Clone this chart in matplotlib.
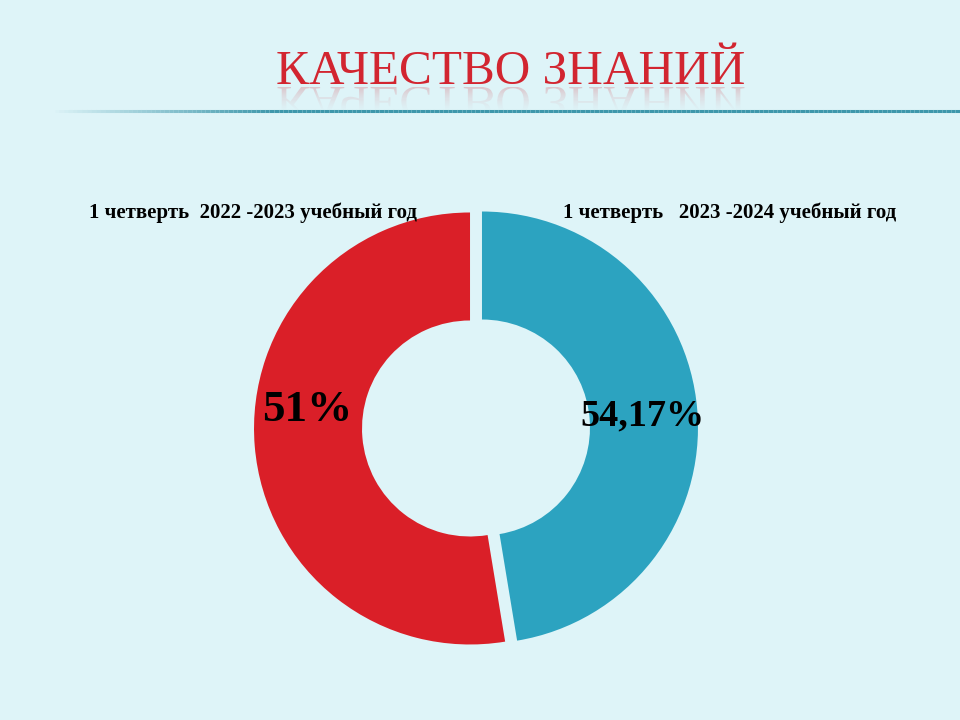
import matplotlib
matplotlib.use("Agg")
import matplotlib.pyplot as plt
import numpy as np
from matplotlib.textpath import TextPath
from matplotlib.patches import PathPatch
from matplotlib.font_manager import FontProperties
from matplotlib.transforms import Affine2D, Bbox
from matplotlib.collections import LineCollection
from matplotlib.colors import to_rgba

# ---- data ----
title = "КАЧЕСТВО ЗНАНИЙ"
categories = ["1 четверть   2023 -2024 учебный год", "1 четверть  2022 -2023 учебный год"]
ring_shares = [47.4, 52.6]          # share of the ring
value_labels = ["54,17%", "51%"]
colors = ["#2CA3C0", "#DA1F28"]

bg = "#DEF4F8"
serif = "Liberation Serif"
W, H = 960, 720

fig = plt.figure(figsize=(9.6, 7.2), dpi=100)
fig.patch.set_facecolor(bg)

# pie axes (pixel coords, y up)
axp = fig.add_axes([0, 0, 1, 1])
axp.pie(ring_shares, colors=colors, startangle=90, counterclock=False,
        radius=216, center=(476, H - 428), explode=[6, 6],
        wedgeprops=dict(width=108, edgecolor="none"))
axp.set_xlim(0, W)
axp.set_ylim(0, H)
axp.set_aspect("auto")
axp.axis("off")

# overlay axes (pixel coords, y down)
ax = fig.add_axes([0, 0, 1, 1])
ax.set_xlim(0, W)
ax.set_ylim(H, 0)
ax.axis("off")
ax.patch.set_alpha(0)

# title
title_color = "#D22530"
fs = 35.5
base = 84
ax.text(511, base, title, fontsize=fs, color=title_color, family=serif,
        ha="center", va="baseline")
# faded reflection
fp = FontProperties(family=serif)
tp = TextPath((0, 0), title, size=fs * 100 / 72, prop=fp)
ext = tp.get_extents()
tr = Affine2D().translate(-(ext.x0 + ext.x1) / 2, 0).scale(1, 0.9).translate(511, base + 3) + ax.transData
nb = 24
y0, y1 = base + 3, base + 28
for i in range(nb):
    ya = y0 + (y1 - y0) * i / nb
    yb = y0 + (y1 - y0) * (i + 1) / nb
    a = 0.22 * (1 - i / nb) ** 1.6
    pp = PathPatch(tp, facecolor=title_color, edgecolor="none", alpha=a,
                   transform=tr, antialiased=True)
    ax.add_patch(pp)
    pp.set_clip_path(None)
    pp.set_clip_box(Bbox.from_extents(0, H - yb, W, H - ya))

# gradient line under title
xs = np.linspace(50, W, 200)
segs = [[(xs[i], 111), (xs[i + 1], 111)] for i in range(len(xs) - 1)]
lc_cols = []
r, g, b, _ = to_rgba("#3E97AB")
for i in range(len(xs) - 1):
    t = min(1.0, max(0.0, (xs[i] - 50) / 220))
    lc_cols.append((r, g, b, t))
ax.add_collection(LineCollection(segs, colors=lc_cols, linewidths=2.2))

# category labels
ax.text(730, 213, categories[0], fontsize=15, fontweight="bold", family=serif,
        ha="center", va="center", color="black")
ax.text(253, 213, categories[1], fontsize=15, fontweight="bold", family=serif,
        ha="center", va="center", color="black")

# value labels
ax.text(642, 416, value_labels[0], fontsize=27.5, fontweight="bold", family=serif,
        ha="center", va="center", color="black")
ax.text(307, 410, value_labels[1], fontsize=32.5, fontweight="bold", family=serif,
        ha="center", va="center", color="black")

fig.savefig("out.png", dpi=100, facecolor=bg)
